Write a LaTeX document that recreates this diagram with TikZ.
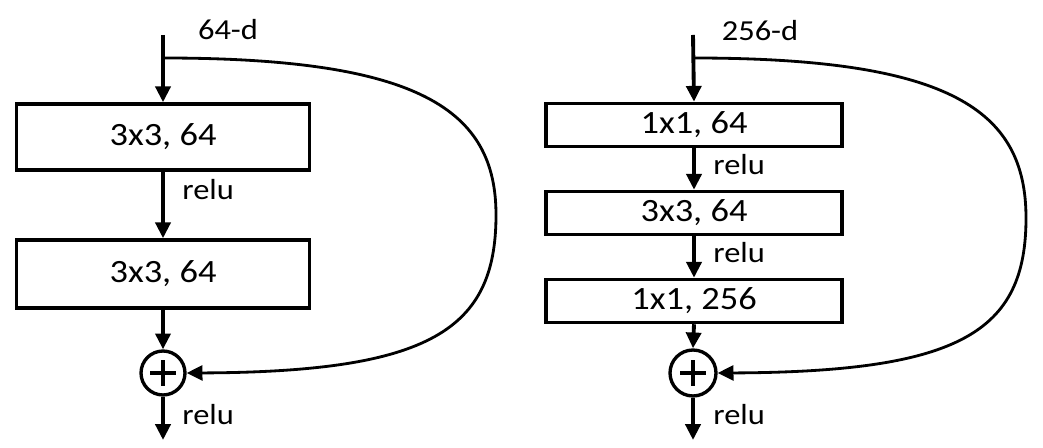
\documentclass[tikz,border=0pt]{standalone}
\usepackage{fontspec}
\setmainfont{Carlito}[FakeStretch=1.12]
\usepackage{tikz}
\usetikzlibrary{
	arrows.meta,
	calc,
	positioning
}

\tikzset{
	layer/.style={draw, line width=2pt, inner sep=0pt, minimum height=0.86cm,
		font=\fontsize{18.5}{22}\selectfont},
	sumnode/.style={circle, draw, line width=1.9pt, inner sep=0pt, minimum size=0.88cm,
		path picture={
			\draw[line width=2.3pt] ([xshift=-0.26cm]path picture bounding box.center) -- ([xshift=0.26cm]path picture bounding box.center);
			\draw[line width=2.3pt] ([yshift=-0.26cm]path picture bounding box.center) -- ([yshift=0.26cm]path picture bounding box.center);
		}},
	flow/.style={->, line width=2.2pt},
	skipline/.style={->, line width=1.6pt},
	lbl/.style={inner sep=0pt, font=\fontsize{16.5}{20}\selectfont}
}

\begin{document}
\begin{tikzpicture}[x=0.02cm, y=-0.02cm, >={Triangle[length=9pt, width=8.5pt]}]
		\useasboundingbox (0,0) rectangle (1043,448);
		
		% 左: 两层 3x3
		\coordinate (ltop) at (163,35);
		\coordinate (lsplit) at (163,58);
		\coordinate (lout) at (163,440);
		\node[layer, minimum width=5.86cm, minimum height=1.32cm] (lconvA) at (163,137) {3x3, 64};
		\node[layer, minimum width=5.86cm, minimum height=1.36cm] (lconvB) at (163,274) {3x3, 64};
		\node[sumnode] (lsum) at (163,373) {};
		
		\node[lbl] (ldim) at (228,30) {64-d};
		\node[lbl, anchor=west] (lrelu1) at (182,190) {relu};
		\node[lbl, anchor=west] (lrelu2) at (182,415) {relu};
		
		\draw[flow] (ltop) -- (lconvA.north);
		\draw[flow] (lconvA.south) -- (lconvB.north);
		\draw[flow] (lconvB.south) -- (lsum.north);
		\draw[flow] (lsum.south) -- (lout);
		
		% 左: 捷径
		\draw[skipline] (lsplit) .. controls (420,58) and (496,110) .. (496,215)
			.. controls (496,330) and (430,372) .. (lsum.east);
		
		% 右: 瓶颈 1x1-3x3-1x1
		\coordinate (rtop) at (693,35);
		\coordinate (rsplit) at (693,58);
		\coordinate (rout) at (693,440);
		\node[layer, minimum width=5.92cm] (rconvA) at (694,125) {1x1, 64};
		\node[layer, minimum width=5.92cm] (rconvB) at (694,213) {3x3, 64};
		\node[layer, minimum width=5.92cm] (rconvC) at (694,301) {1x1, 256};
		\node[sumnode, minimum size=0.92cm] (rsum) at (693,373) {};
		
		\node[lbl] (rdim) at (760,31) {256-d};
		\node[lbl, anchor=west] (rrelu1) at (713,165) {relu};
		\node[lbl, anchor=west] (rrelu2) at (713,253) {relu};
		\node[lbl, anchor=west] (rrelu3) at (713,415) {relu};
		
		\draw[flow] (rtop) -- (rconvA.north);
		\draw[flow] (rconvA.south) -- (rconvB.north);
		\draw[flow] (rconvB.south) -- (rconvC.north);
		\draw[flow] (rconvC.south) -- (rsum.north);
		\draw[flow] (rsum.south) -- (rout);
		
		% 右: 捷径
		\draw[skipline] (rsplit) .. controls (950,58) and (1026,110) .. (1026,218)
			.. controls (1026,332) and (960,372) .. (rsum.east);
	\end{tikzpicture}
\end{document}
